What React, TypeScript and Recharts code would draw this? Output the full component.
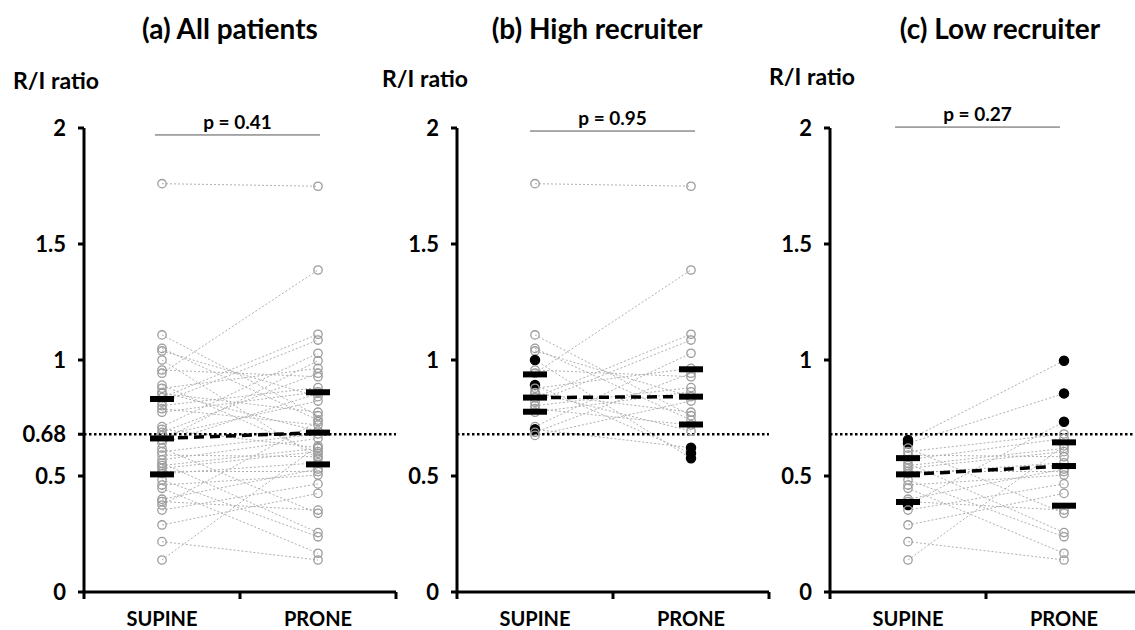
import { ComposedChart, Line, Scatter, XAxis, YAxis, ReferenceLine } from "recharts"

const categories = ["SUPINE", "PRONE"]
const titles = ["(a) All patients", "(b) High recruiter", "(c) Low recruiter"]
const pLabels = ["p = 0.41", "p = 0.95", "p = 0.27"]
const threshold = 0.68
const yTicks = [0, 0.5, 1, 1.5, 2]
const yTicksAll = [0, 0.5, 0.68, 1, 1.5, 2]

// high recruiters, paired supine -> prone
const highSupine = [1.76, 1.108, 1.05, 1.039, 1.0, 0.957, 0.943, 0.892, 0.878, 0.856, 0.838, 0.818, 0.803, 0.775, 0.79, 0.86, 0.713, 0.701, 0.688, 0.675]
const highProne = [1.749, 0.76, 0.741, 0.842, 0.576, 0.928, 1.388, 0.598, 0.964, 0.775, 1.111, 1.086, 0.881, 0.863, 0.72, 0.694, 1.029, 0.622, 0.943, 0.823]
const highCrossed = [4, 7, 17]

// low recruiters
const lowSupine = [0.655, 0.641, 0.62, 0.605, 0.59, 0.57, 0.555, 0.545, 0.533, 0.52, 0.51, 0.483, 0.461, 0.447, 0.4, 0.39, 0.375, 0.353, 0.289, 0.217, 0.138]
const lowProne = [0.997, 0.856, 0.339, 0.681, 0.583, 0.662, 0.256, 0.619, 0.605, 0.519, 0.557, 0.238, 0.504, 0.167, 0.53, 0.353, 0.734, 0.466, 0.425, 0.138, 0.63]
const lowCrossed = [0, 1, 16]

// quartiles [Q1, median, Q3]
const allQSupine = [0.507, 0.662, 0.832]
const allQProne = [0.55, 0.687, 0.861]
const highQSupine = [0.777, 0.838, 0.938]
const highQProne = [0.722, 0.842, 0.96]
const lowQSupine = [0.388, 0.507, 0.577]
const lowQProne = [0.372, 0.543, 0.645]

const FONT = "Lato, 'Open Sans', sans-serif"

const XTick = (props: any) => {
  const { x, y, payload } = props
  const v = payload.value
  if (v % 1 === 0) {
    return <line x1={x} x2={x} y1={y} y2={y + 7} stroke="#000" strokeWidth={3} />
  }
  return (
    <text x={x} y={y + 34} textAnchor="middle" fontSize={20} fontWeight={700} fill="#000" fontFamily={FONT}>
      {v < 1 ? categories[0] : categories[1]}
    </text>
  )
}

const QuartileBar = (props: any) => (
  <rect x={props.cx - 12} y={props.cy - 3} width={24} height={6} fill="#000" />
)

interface PanelProps {
  left: number
  supine: number[]
  prone: number[]
  crossed: number[]
  qS: number[]
  qP: number[]
  ticks: number[]
  p: string
  bracket: [number, number, number]
}

function Panel({ left, supine, prone, crossed, qS, qP, ticks, p, bracket }: PanelProps) {
  const pairs = supine.map((s, i) => ({
    filled: crossed.includes(i),
    data: [
      { x: 0.5, y: s },
      { x: 1.5, y: prone[i] },
    ],
  }))
  const medians = [
    { x: 0.5, y: qS[1] },
    { x: 1.5, y: qP[1] },
  ]
  const bars = [
    ...qS.map((y) => ({ x: 0.5, y })),
    ...qP.map((y) => ({ x: 1.5, y })),
  ]
  return (
    <div style={{ position: "absolute", left, top: 0 }}>
      <ComposedChart width={400} height={630} margin={{ top: 128, right: 4, bottom: 0, left: 24 }}>
        <XAxis
          type="number"
          dataKey="x"
          domain={[0, 2]}
          ticks={[0, 0.5, 1, 1.5, 2]}
          interval={0}
          height={38}
          tickSize={0}
          tickMargin={0}
          tick={<XTick />}
          axisLine={{ stroke: "#000", strokeWidth: 3 }}
          tickLine={false}
        />
        <YAxis
          type="number"
          domain={[0, 2]}
          ticks={ticks}
          interval={0}
          width={60}
          tickSize={6}
          tickMargin={12}
          axisLine={{ stroke: "#000", strokeWidth: 3 }}
          tickLine={{ stroke: "#000", strokeWidth: 3 }}
          tick={{ fill: "#000", fontSize: 22, fontWeight: 700, fontFamily: FONT }}
        />
        {pairs.map((pr, i) => (
          <Line
            key={i}
            data={pr.data}
            dataKey="y"
            stroke="#b0b0b0"
            strokeWidth={1}
            strokeDasharray="2 2"
            isAnimationActive={false}
            dot={{
              r: pr.filled ? 4.6 : 4.2,
              fill: pr.filled ? "#000" : "none",
              stroke: pr.filled ? "#000" : "#9c9c9c",
              strokeWidth: 1.3,
              strokeDasharray: "none",
            }}
          />
        ))}
        <ReferenceLine y={threshold} stroke="#000" strokeWidth={2.5} strokeDasharray="2.5 2.5" />
        <Line
          data={medians}
          dataKey="y"
          stroke="#000"
          strokeWidth={3.5}
          strokeDasharray="10 6"
          dot={false}
          isAnimationActive={false}
        />
        <Scatter data={bars} dataKey="y" shape={<QuartileBar />} isAnimationActive={false} />
        <ReferenceLine
          segment={[
            { x: bracket[0], y: bracket[2] },
            { x: bracket[1], y: bracket[2] },
          ]}
          ifOverflow="visible"
          stroke="#555"
          strokeWidth={1}
          label={{ value: p, position: "top", fill: "#000", fontSize: 19, fontWeight: 700, fontFamily: FONT, offset: 6 }}
        />
      </ComposedChart>
    </div>
  )
}

const textStyle = {
  position: "absolute" as const,
  fontFamily: FONT,
  fontWeight: 700,
  color: "#000",
  whiteSpace: "nowrap" as const,
  transform: "translate(-50%, -50%)",
}

export default function App() {
  return (
    <div style={{ position: "absolute", left: 0, top: 0, width: 1135, height: 630, overflow: "hidden", background: "#fff" }}>
      <Panel
        left={0}
        supine={[...highSupine, ...lowSupine]}
        prone={[...highProne, ...lowProne]}
        crossed={[]}
        qS={allQSupine}
        qP={allQProne}
        ticks={yTicksAll}
        p={pLabels[0]}
        bracket={[0.455, 1.513, 1.97]}
      />
      <Panel
        left={373}
        supine={highSupine}
        prone={highProne}
        crossed={highCrossed}
        qS={highQSupine}
        qP={highQProne}
        ticks={yTicks}
        p={pLabels[1]}
        bracket={[0.468, 1.526, 1.987]}
      />
      <Panel
        left={746}
        supine={lowSupine}
        prone={lowProne}
        crossed={lowCrossed}
        qS={lowQSupine}
        qP={lowQProne}
        ticks={yTicks}
        p={pLabels[2]}
        bracket={[0.417, 1.474, 2.004]}
      />
      <div style={{ ...textStyle, left: 230, top: 28, fontSize: 28 }}>{titles[0]}</div>
      <div style={{ ...textStyle, left: 597, top: 28, fontSize: 28 }}>{titles[1]}</div>
      <div style={{ ...textStyle, left: 1000, top: 28, fontSize: 28 }}>{titles[2]}</div>
      <div style={{ ...textStyle, left: 56, top: 80, fontSize: 23 }}>R/I ratio</div>
      <div style={{ ...textStyle, left: 425, top: 78, fontSize: 23 }}>R/I ratio</div>
      <div style={{ ...textStyle, left: 812, top: 76, fontSize: 23 }}>R/I ratio</div>
    </div>
  )
}
